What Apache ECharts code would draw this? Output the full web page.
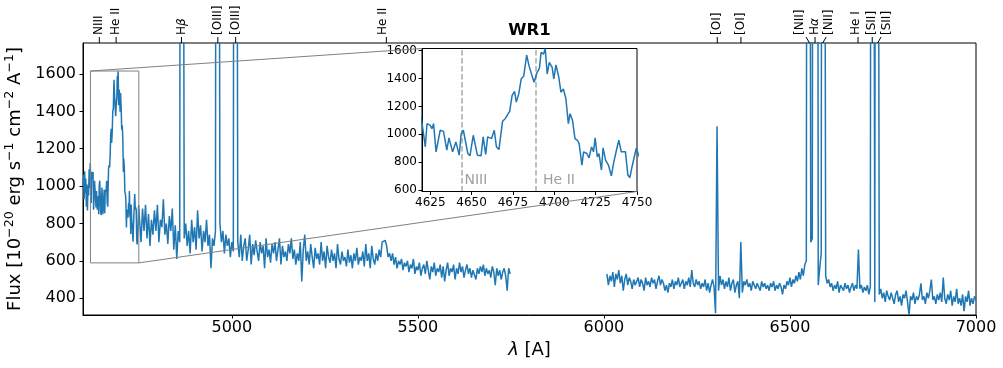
<!DOCTYPE html>
<html><head><meta charset="utf-8">
<script src="https://cdn.jsdelivr.net/npm/echarts@6/dist/echarts.min.js"></script>
<style>html,body{margin:0;padding:0;background:#fff}#c{width:1003px;height:368px}</style>
</head><body><div id="c"></div>
<script>
// ---- data ----
const blueWave = [4600,4601.5,4603,4604.5,4606,4607.5,4609,4610.5,4612,4613.5,4615,4616.5,4618,4619.5,4622,4623,4625,4626,4627,4628.5,4631,4633,4635,4636.3,4638.5,4640.5,4642.5,4643.7,4645,4647.7,4649,4651,4653.5,4655.7,4657,4658.5,4659.7,4662,4663.7,4665,4666.5,4668.7,4670.3,4671.5,4673,4674.5,4676,4677,4678.5,4680,4681.5,4683.3,4684.7,4686.5,4687.8,4689.6,4691,4692,4693.5,4694.5,4695.7,4697,4698.7,4699.7,4701,4702.7,4704,4705.5,4707,4708.5,4709.5,4711,4712.5,4714,4715,4716.7,4717.7,4719.7,4721,4722.5,4723.7,4724.7,4726,4727,4728.5,4729.5,4731,4732.7,4734.5,4736,4737.8,4739,4740.5,4741.7,4743,4744.5,4745.7,4747,4748,4749.5];
const blueFlux = [1000,1060,930,1080,960,1040,890,1010,870,1000,950,1090,990,1124,910,1076,1064,1040,1076,874,1029,1021,886,974,874,945,850,1005,1029,862,845,993,850,845,981,855,981,969,1029,910,890,1093,1112,1100,1164,1279,1307,1231,1290,1398,1417,1569,1493,1421,1374,1445,1474,1588,1576,1615,1433,1517,1481,1398,1498,1410,1302,1326,1255,1076,1148,1100,969,957,933,779,874,862,831,910,874,974,838,862,743,902,814,779,702,802,898,957,874,886,874,707,688,767,779,898];
const cont1Start = 4752, cont1Step = 4;
const cont1Flux = [
820,700,880,760,900,720,850,680,820,740,
870,760,900,700,820,780,930,740,800,690,
840,760,880,660,790,610,760,700,
9000,9000,
720,800,680,760,640,820,700,780,660,870,
720,790,650,760,700,820,680,740,560,720,
680,760,
9000,9000,
800,700,760,640,740,680,
720,620,700,650,
9000,9000,
700,620,740,600,
680,720,600,660,740,580,690,630,710,650,
600,700,640,680,560,720,620,660,590,690,
640,700,600,660,720,580,680,620,650,600,
690,640,720,610,660,580,640,600,700,490,
660,740,600,650,580,690,620,560,670,610,
640,580,700,600,650,560,680,620,590,660,
600,640,560,690,610,580,650,600,620,570,
660,590,630,560,640,600,670,580,620,600,
650,570,690,600,640,560,680,610,580,640,
600,660,620,700,690,710,680,620,640,600,
640,580,620,560,600,580,610,550,590,570,
600,540,580,560,610,530,570,550,590,520,
560,580,530,600,550,500,570,540,590,520,
560,540,580,510,570,490,550,590,520,560,
540,580,500,560,530,590,540,570,510,550,
580,530,560,510,550,540,500,560,530,570,
540,580,520,560,530,550,510,570,540,470,
560,520,550,500,540,560,520,440,560,530];
const cont2Start = 6008, cont2Step = 4;
const cont2Flux = [
530,470,520,490,540,460,530,500,550,480,
520,440,500,530,470,510,490,450,500,470,
490,510,460,500,480,440,510,470,490,460,
510,480,500,450,490,520,470,500,480,440,
470,430,480,460,500,450,490,470,510,460,
480,500,450,490,470,510,460,550,480,460,
500,470,490,450,480,460,500,440,480,430,
470,500,460,320,1320,440,520,470,500,450,
490,460,510,440,480,500,430,470,490,400,
700,430,490,470,500,460,480,440,490,470,
450,480,470,440,490,460,480,450,470,440,
480,460,490,440,470,450,480,460,420,470,
450,490,470,510,460,500,480,520,490,540,
500,560,520,580,600,9000,9000,700,720,9000,
9000,9000,470,560,640,9000,9000,520,480,500,
460,480,440,470,450,490,430,470,460,440,
480,450,470,430,460,480,440,470,450,660,
450,470,430,460,440,470,420,460,9000,9000,
380,9000,9000,420,450,400,430,380,440,410,
390,430,400,370,420,440,380,410,360,420,
400,440,380,310,410,390,430,370,410,390,
420,480,390,410,370,430,400,440,500,390,
410,370,420,390,430,380,510,400,370,420,
390,440,360,410,380,450,370,400,360,420,
330,410,380,440,360,400,370,410,390];
const xTicks = [5000,5500,6000,6500,7000];
const yTicks = [400,600,800,1000,1200,1400,1600];
const insetXTicks = [4625,4650,4675,4700,4725,4750];
const insetYTicks = [600,800,1000,1200,1400,1600];
const lineNames = ['NIII','He II','H{g|β}','[OIII]','[OIII]','He II','[OI]','[OI]','[NII]','H{g|α}','[NII]','He I','[SII]','[SII]'];
const lineRest = [4640.64,4685.7,4861.3,4958.9,5006.8,5411.5,6300.3,6363.8,6548.0,6562.8,6583.4,6678.2,6716.4,6730.8];
const redshift = 0.0007;
const insetNames = ['NIII','He II'];
const insetRest = [4640.64,4685.7];

// ---- layout / style ----
const FONT = 'DejaVu Sans';
const BLUE = '#1f77b4';
const labelShift = [0,0,0,0,0,-3,0,0,-10,0,6,-2,0,9];
const insetTextShift = [3,7];
const mainX = [4600,7000], mainY = [310,1766];
const insetX = [4620,4750], insetY = [589,1616];

const obs = w => w*(1+redshift);
const pairs1 = blueWave.map((w,i)=>[w,blueFlux[i]]).concat(cont1Flux.map((f,i)=>[cont1Start+i*cont1Step,f]));
const pairs2 = cont2Flux.map((f,i)=>[cont2Start+i*cont2Step,f]);
const insetPairs = pairs1.filter(p=>p[0]<=4760);
const plain = v => String(v);

const axisCommon = {
  axisLine:{show:true,lineStyle:{color:'#000',width:1}},
  axisTick:{show:true,inside:false,length:3.5,lineStyle:{color:'#000',width:1}},
  splitLine:{show:false}
};

const option = {
  animation:false,
  backgroundColor:'#fff',
  grid:[
    {left:83,top:43,width:893,height:272,show:true,borderColor:'#000',borderWidth:1,backgroundColor:'transparent',containLabel:false,outerBoundsMode:'none'},
    {left:422,top:48.5,width:215,height:143,show:true,borderColor:'#000',borderWidth:1,backgroundColor:'#fff',z:5,containLabel:false,outerBoundsMode:'none'}
  ],
  xAxis:[
    Object.assign({type:'value',gridIndex:0,min:mainX[0],max:mainX[1],
      name:'{i|λ}{n| [A]}',nameLocation:'middle',nameGap:25,
      nameTextStyle:{color:'#000',fontFamily:FONT,fontSize:18,rich:{i:{fontStyle:'italic',fontSize:18,fontFamily:FONT,color:'#000'},n:{fontSize:18,fontFamily:FONT,color:'#000'}}},
      axisLabel:{customValues:xTicks,formatter:plain,color:'#000',fontSize:16,fontFamily:FONT,margin:5}},axisCommon,
      {axisTick:Object.assign({},axisCommon.axisTick,{customValues:xTicks})}),
    Object.assign({type:'value',gridIndex:1,min:insetX[0],max:insetX[1],z:6,
      axisLabel:{customValues:insetXTicks,formatter:plain,color:'#000',fontSize:12,fontFamily:FONT,margin:5}},axisCommon,
      {axisTick:Object.assign({},axisCommon.axisTick,{customValues:insetXTicks})})
  ],
  yAxis:[
    Object.assign({type:'value',gridIndex:0,min:mainY[0],max:mainY[1],
      name:'{n|Flux [10}{s|−20}{n| erg s}{s|−1}{n| cm}{s|−2}{n| A}{s|−1}{n|]}',
      nameLocation:'middle',nameGap:53,nameRotate:90,
      nameTextStyle:{color:'#000',fontFamily:FONT,fontSize:18,rich:{
        n:{fontSize:18,fontFamily:FONT,color:'#000',lineHeight:24},
        s:{fontSize:12.6,fontFamily:FONT,color:'#000',lineHeight:14,verticalAlign:'top'}}},
      axisLabel:{customValues:yTicks,formatter:plain,color:'#000',fontSize:16,fontFamily:FONT,margin:7}},axisCommon,
      {axisTick:Object.assign({},axisCommon.axisTick,{customValues:yTicks})}),
    Object.assign({type:'value',gridIndex:1,min:insetY[0],max:insetY[1],z:6,
      axisLabel:{customValues:insetYTicks,formatter:plain,color:'#000',fontSize:12,fontFamily:FONT,margin:5}},axisCommon,
      {axisTick:Object.assign({},axisCommon.axisTick,{customValues:insetYTicks})})
  ],
  series:[
    {type:'line',xAxisIndex:0,yAxisIndex:0,data:pairs1,showSymbol:false,symbol:'none',clip:true,
     lineStyle:{color:BLUE,width:1.5},z:2},
    {type:'line',xAxisIndex:0,yAxisIndex:0,data:pairs2,showSymbol:false,symbol:'none',clip:true,
     lineStyle:{color:BLUE,width:1.5},z:2},
    {type:'line',xAxisIndex:1,yAxisIndex:1,data:insetPairs,showSymbol:false,symbol:'none',clip:true,
     lineStyle:{color:BLUE,width:1.5},z:7,
     markLine:{silent:true,symbol:['none','none'],label:{show:false},
       lineStyle:{color:'#aaaaaa',type:[5.5,2.5],width:1.5},
       data:insetRest.map(w=>({xAxis:obs(w)}))}}
  ]
};

const chart = echarts.init(document.getElementById('c'),null,{renderer:'canvas'});
chart.setOption(option);

function px(g,p){return chart.convertToPixel({gridIndex:g},p);}
const gr = [];
const a = px(0,[insetX[0],insetY[1]]), b = px(0,[insetX[1],insetY[0]]);
const c = px(1,[insetX[0],insetY[1]]), d = px(1,[insetX[1],insetY[0]]);
const GRAY = '#808080';
gr.push({type:'rect',z:20,shape:{x:a[0],y:a[1],width:b[0]-a[0],height:b[1]-a[1]},style:{fill:'rgba(0,0,0,0)',stroke:GRAY,lineWidth:1}});
gr.push({type:'line',z:20,shape:{x1:a[0],y1:a[1],x2:c[0],y2:c[1]},style:{stroke:GRAY,lineWidth:1}});
gr.push({type:'line',z:20,shape:{x1:b[0],y1:b[1],x2:d[0],y2:d[1]},style:{stroke:GRAY,lineWidth:1}});

// top line labels
const topY = px(0,[mainX[0],mainY[1]])[1];
lineRest.forEach((w,i)=>{
  const lx = px(0,[obs(w),mainY[1]])[0];
  const s = labelShift[i];
  const tx = lx + s;
  const endX = Math.abs(s)>4 ? lx + Math.sign(s)*3.5 : lx;
  gr.push({type:'line',z:20,shape:{x1:lx,y1:topY,x2:endX,y2:topY-6},style:{stroke:'#000',lineWidth:1}});
  gr.push({type:'text',z:20,x:tx,y:topY-8,rotation:Math.PI/2,
    style:{text:lineNames[i],fontSize:12,fontFamily:FONT,fill:'#000',align:'left',verticalAlign:'middle',
      rich:{g:{fontStyle:'italic',fontSize:12,fontFamily:FONT,fill:'#000'}}}});
});
// inset labels
const inBottom = px(1,[insetX[0],insetY[0]])[1];
insetRest.forEach((w,i)=>{
  const lx = px(1,[obs(w),insetY[0]])[0];
  gr.push({type:'text',z:30,x:lx+insetTextShift[i],y:inBottom-11,
    style:{text:insetNames[i],fontSize:14,fontFamily:FONT,fill:'#a0a0a0',align:'left',verticalAlign:'middle'}});
});
// title
const g0l = px(0,[mainX[0],mainY[1]]), g0r = px(0,[mainX[1],mainY[1]]);
gr.push({type:'text',z:20,x:(g0l[0]+g0r[0])/2,y:31,
  style:{text:'WR1',fontSize:16.5,fontWeight:'bold',fontFamily:FONT,fill:'#000',align:'center',verticalAlign:'middle'}});

chart.setOption({graphic:{elements:gr}});
</script></body></html>
